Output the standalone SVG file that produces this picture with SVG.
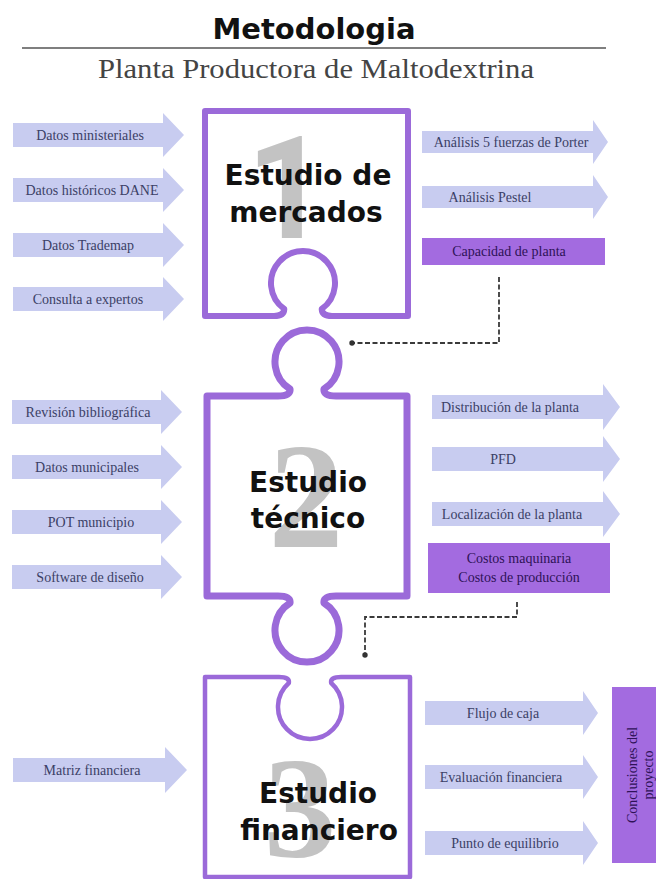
<svg xmlns="http://www.w3.org/2000/svg" width="656" height="879" viewBox="0 0 656 879">
<defs>
<style>
.title{font-family:"DejaVu Sans",sans-serif;font-weight:bold;fill:#111}
.sub{font-family:"Liberation Serif",serif;fill:#444}
.piece{fill:#fff;stroke:#9b6ad9;stroke-linejoin:round}
.big{font-family:Roboto,"Open Sans",sans-serif;font-weight:bold;fill:#c3c3c3}
.bigs{font-family:"Liberation Serif",serif;font-weight:bold;fill:#c3c3c3}
.head{font-family:"DejaVu Sans",sans-serif;font-weight:bold;font-size:28px;fill:#111;text-anchor:middle}
.arr{fill:#c8ccf0}
.lbl{font-family:"Liberation Serif",serif;font-size:14px;fill:#3b3f66;text-anchor:middle}
.box{fill:#a36be0}
.blbl{font-family:"Liberation Serif",serif;font-size:14px;fill:#2e1257;text-anchor:middle}
.conn{fill:none;stroke:#3a3a3a;stroke-width:1.8;stroke-dasharray:5 2.5}
</style>
<marker id="dot" viewBox="0 0 6 6" refX="3" refY="3" markerWidth="3" markerHeight="3" markerUnits="strokeWidth">
<circle cx="3" cy="3" r="3" fill="#333"/>
</marker>
</defs>
<rect width="656" height="879" fill="#fff"/>

<g id="header">
<text class="title" x="314" y="39" font-size="29" text-anchor="middle">Metodologia</text>
<line x1="22" y1="48" x2="606" y2="48" stroke="#555" stroke-width="1.5"/>
<text class="sub" x="316" y="78" font-size="28" text-anchor="middle" textLength="436" lengthAdjust="spacingAndGlyphs">Planta Productora de Maltodextrina</text>
</g>

<g id="piece1">
<path class="piece" stroke-width="6" d="M205,111 L408,111 L408,316 L332,316 Q322,316 321.7,309 A32,32 0 1 0 284.3,309 Q284,316 274,316 L205,316 Z"/>
<text class="big" x="287" y="238" font-size="142" text-anchor="middle">1</text>
<text class="head" x="308" y="185">Estudio de</text>
<text class="head" x="306" y="222">mercados</text>
</g>

<g id="piece2">
<path class="piece" stroke-width="7" d="M207,396 L278,396 Q291,396 290,389 A32,32 0 1 1 324,389 Q323,396 336,396 L407,396 L407,596 L336,596 Q323,596 324,603 A32,32 0 1 1 290,603 Q291,596 278,596 L207,596 Z"/>
<text class="bigs" x="306" y="547" font-size="150" text-anchor="middle">2</text>
<text class="head" x="308" y="492">Estudio</text>
<text class="head" x="308" y="528">técnico</text>
</g>

<g id="piece3">
<path class="piece" stroke="#a57be3" stroke-width="4.5" d="M205,677 L279,677 Q290,677 288.8,683 A32,32 0 1 0 331.2,683 Q330,677 341,677 L410,677 L410,877 L205,877 Z"/>
<text class="bigs" x="300" y="857" font-size="145" text-anchor="middle">3</text>
<text class="head" x="318" y="803">Estudio</text>
<text class="head" x="319" y="840">financiero</text>
</g>

<g id="in1a"><path class="arr" d="M13,123 L163,123 L163,113 L184,135 L163,157 L163,147 L13,147 Z"/><text class="lbl" x="90" y="140">Datos ministeriales</text></g>
<g id="in1b"><path class="arr" d="M13,178 L163,178 L163,168 L184,190 L163,212 L163,202 L13,202 Z"/><text class="lbl" x="92" y="195">Datos históricos DANE</text></g>
<g id="in1c"><path class="arr" d="M13,233 L163,233 L163,223 L184,245 L163,267 L163,257 L13,257 Z"/><text class="lbl" x="88" y="250">Datos Trademap</text></g>
<g id="in1d"><path class="arr" d="M13,287 L163,287 L163,277 L184,299 L163,321 L163,311 L13,311 Z"/><text class="lbl" x="88" y="304">Consulta a expertos</text></g>

<g id="out1a"><path class="arr" d="M422,131 L593,131 L593,120 L608,142 L593,164 L593,153 L422,153 Z"/><text class="lbl" x="511" y="147">Análisis 5 fuerzas de Porter</text></g>
<g id="out1b"><path class="arr" d="M422,186 L593,186 L593,175 L608,197 L593,219 L593,208 L422,208 Z"/><text class="lbl" x="490" y="202">Análisis Pestel</text></g>
<g id="out1c"><rect class="box" x="422" y="238" width="183" height="27"/><text class="blbl" x="509" y="256">Capacidad de planta</text></g>

<g id="in2a"><path class="arr" d="M12,400 L161,400 L161,390 L182,412 L161,434 L161,424 L12,424 Z"/><text class="lbl" x="88" y="417">Revisión bibliográfica</text></g>
<g id="in2b"><path class="arr" d="M12,455 L161,455 L161,445 L182,467 L161,489 L161,479 L12,479 Z"/><text class="lbl" x="87" y="472">Datos municipales</text></g>
<g id="in2c"><path class="arr" d="M12,510 L161,510 L161,500 L182,522 L161,544 L161,534 L12,534 Z"/><text class="lbl" x="91" y="527">POT municipio</text></g>
<g id="in2d"><path class="arr" d="M12,565 L161,565 L161,555 L182,577 L161,599 L161,589 L12,589 Z"/><text class="lbl" x="90" y="582">Software de diseño</text></g>

<g id="out2a"><path class="arr" d="M432,395 L603,395 L603,384 L620,407 L603,430 L603,419 L432,419 Z"/><text class="lbl" x="510" y="412">Distribución de la planta</text></g>
<g id="out2b"><path class="arr" d="M432,447 L603,447 L603,436 L620,459 L603,482 L603,471 L432,471 Z"/><text class="lbl" x="503" y="464">PFD</text></g>
<g id="out2c"><path class="arr" d="M432,502 L603,502 L603,491 L620,514 L603,537 L603,526 L432,526 Z"/><text class="lbl" x="512" y="519">Localización de la planta</text></g>
<g id="out2d"><rect class="box" x="428" y="543" width="182" height="50"/><text class="blbl" x="519" y="563">Costos maquinaria</text><text class="blbl" x="519" y="582">Costos de producción</text></g>

<g id="in3"><path class="arr" d="M13,758 L165,758 L165,747 L187,770 L165,793 L165,782 L13,782 Z"/><text class="lbl" x="92" y="775">Matriz financiera</text></g>

<g id="out3a"><path class="arr" d="M425,701 L583,701 L583,691 L598,713 L583,735 L583,725 L425,725 Z"/><text class="lbl" x="503" y="718">Flujo de caja</text></g>
<g id="out3b"><path class="arr" d="M425,765 L583,765 L583,755 L598,777 L583,799 L583,789 L425,789 Z"/><text class="lbl" x="501" y="782">Evaluación financiera</text></g>
<g id="out3c"><path class="arr" d="M425,831 L583,831 L583,821 L598,843 L583,865 L583,855 L425,855 Z"/><text class="lbl" x="505" y="848">Punto de equilibrio</text></g>

<g id="conclusiones">
<rect class="box" x="612" y="687" width="44" height="176"/>
<text class="blbl" transform="translate(637,775) rotate(-90)">Conclusiones del</text>
<text class="blbl" transform="translate(653,775) rotate(-90)">proyecto</text>
</g>

<g id="connectors">
<path class="conn" d="M499,277 L499,343 L352,343" marker-end="url(#dot)"/>
<path class="conn" d="M517,602 L517,617 L365,617 L365,655" marker-end="url(#dot)"/>
</g>
</svg>
